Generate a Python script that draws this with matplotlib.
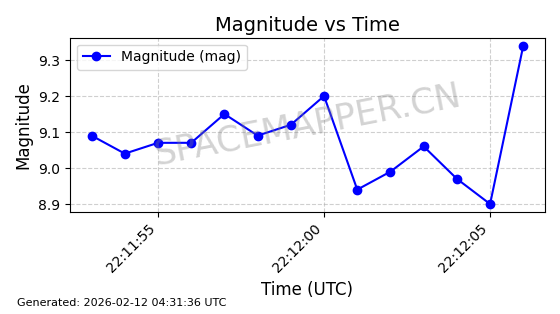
import matplotlib
matplotlib.use("Agg")
import matplotlib.pyplot as plt
import matplotlib.dates as mdates
import pandas as pd

times = pd.date_range("2026-02-11 22:11:53", periods=14, freq="1s")
magnitudes = [9.09, 9.04, 9.07, 9.07, 9.15, 9.09, 9.12, 9.20, 8.94, 8.99, 9.06, 8.97, 8.90, 9.34]
title = "Magnitude vs Time"
footer = "Generated: 2026-02-12 04:31:36 UTC"

fig = plt.figure(figsize=(5.6, 3.14), dpi=100)
ax = fig.add_axes([0.125, 0.325, 0.848, 0.555])
ax.plot(times, magnitudes, "o-", color="blue", markersize=6, linewidth=1.5, label="Magnitude (mag)")
ax.set_title(title, fontsize=14, pad=5)
ax.set_xlabel("Time (UTC)", fontsize=12)
ax.set_ylabel("Magnitude", fontsize=12)
ax.grid(True, linestyle="--", alpha=0.6)
ax.legend(loc="upper left", fontsize=10)
ax.xaxis.set_major_locator(mdates.SecondLocator(bysecond=[0, 5, 10, 15, 20, 25, 30, 35, 40, 45, 50, 55]))
ax.xaxis.set_major_formatter(mdates.DateFormatter("%H:%M:%S"))
ax.set_yticks([8.9, 9.0, 9.1, 9.2, 9.3])
plt.setp(ax.get_xticklabels(), rotation=45, ha="right")
ax.text(0.5, 0.5, "SPACEMAPPER.CN", transform=ax.transAxes, fontsize=25, color="gray",
        alpha=0.35, rotation=11, ha="center", va="center")
fig.text(0.03, 0.025, footer, fontsize=8)
fig.savefig("out.png", dpi=100)
